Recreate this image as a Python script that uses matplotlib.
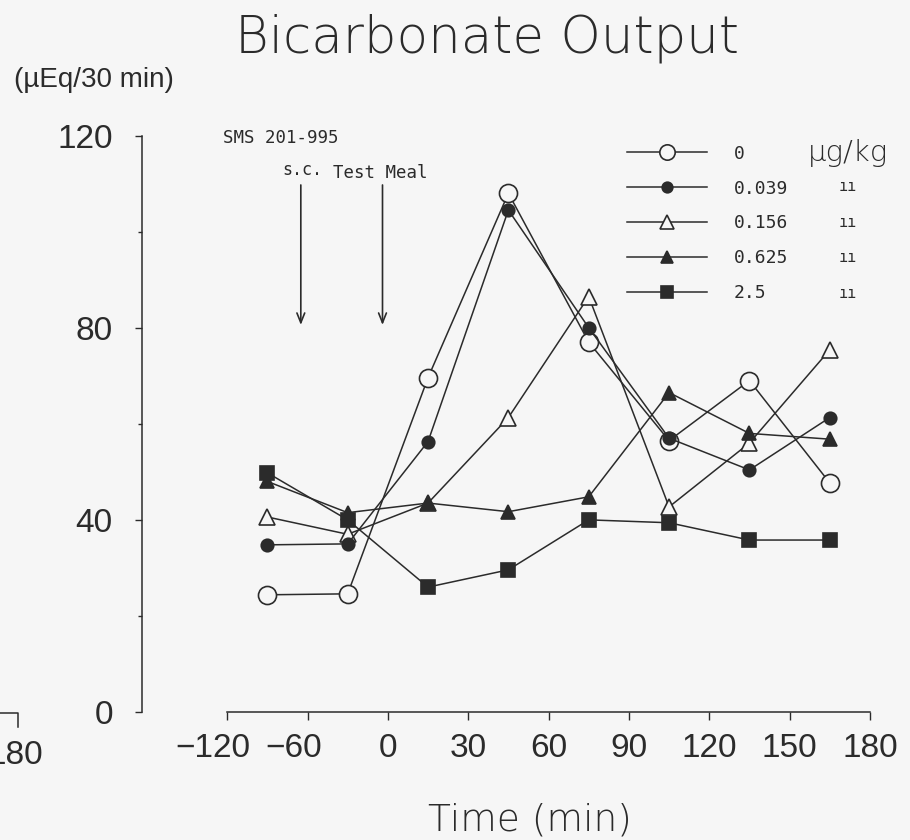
import numpy as np
import matplotlib.pyplot as plt
from matplotlib.lines import Line2D
import matplotlib.transforms as mtransforms

# midpoints of the 30-min collection periods (min)
time_min = [-90, -30, 15, 45, 75, 105, 135, 165]

# bicarbonate output (uEq/30 min) per SMS 201-995 dose
dose_0 = [24.4, 24.6, 69.6, 108.0, 77.0, 56.5, 69.0, 47.7]
dose_0039 = [34.8, 35.0, 56.3, 104.5, 80.0, 57.0, 50.4, 61.3]
dose_0156 = [40.6, 37.0, 43.5, 61.3, 86.5, 42.7, 56.0, 75.4]
dose_0625 = [48.0, 41.5, 43.5, 41.7, 44.8, 66.5, 58.0, 56.8]
dose_25 = [49.8, 40.0, 26.0, 29.6, 40.0, 39.4, 35.8, 35.8]

dose_labels = ["0", "0.039", "0.156", "0.625", "2.5"]
x_ticks = [-120, -60, 0, 30, 60, 90, 120, 150, 180]
y_ticks = [0, 40, 80, 120]
y_minor = [20, 60, 100]
arrow_times = [-65, -4]   # SMS s.c. injection, test meal

INK = "#2b2b2b"
BG = "#f6f6f6"
NARROW = ["Liberation Sans", "DejaVu Sans"]
MONO = ["DejaVu Sans Mono"]


def fwd(t):
    # pre-meal hour is squeezed: 60 min per tick before 0, 30 min after
    t = np.asarray(t, dtype=float)
    return np.where(t < 0, (t + 120) / 60, 2 + t / 30)


def inv(p):
    p = np.asarray(p, dtype=float)
    return np.where(p < 2, p * 60 - 120, (p - 2) * 30)


fig = plt.figure(figsize=(9.1, 8.4), dpi=100)
fig.patch.set_facecolor(BG)
ax = fig.add_axes([142 / 910, 128 / 840, 744 / 910, 586 / 840])
ax.set_facecolor(BG)
ax.set_xscale("function", functions=(fwd, inv))

# (values, marker, filled, size)
series = [
    (dose_0156, "^", False, 12),
    (dose_0, "o", False, 13),
    (dose_0039, "o", True, 9),
    (dose_0625, "^", True, 10),
    (dose_25, "s", True, 10),
]
handles = {}
for vals, mk, filled, ms in series:
    face = INK if filled else BG
    ln, = ax.plot(time_min, vals, color=INK, lw=1.1, marker=mk, ms=ms,
                  mfc=face, mec=INK, mew=1.2, clip_on=False)
    handles[id(vals)] = ln

ax.set_xlim(-183.6, 186)
ax.set_ylim(0, 122)

for side in ["top", "right"]:
    ax.spines[side].set_visible(False)
ax.spines["left"].set_bounds(0, 120)
ax.spines["bottom"].set_bounds(-120, 180)
for side in ["left", "bottom"]:
    ax.spines[side].set_linewidth(1.1)
    ax.spines[side].set_color(INK)

ax.set_xticks(x_ticks)
ax.set_xticklabels([str(v).replace("-", "\u2212") for v in x_ticks])
ax.set_yticks(y_ticks)
ax.set_yticks(y_minor, minor=True)
ax.tick_params(axis="x", direction="out", length=6, width=1.0, color=INK, pad=9)
ax.tick_params(axis="y", direction="out", length=5, width=1.0, color=INK, pad=16)
ax.tick_params(axis="y", which="minor", length=3, width=1.0, color=INK)
for lbl in ax.get_xticklabels() + ax.get_yticklabels():
    lbl.set_fontfamily(NARROW)
    lbl.set_fontsize(24)
    lbl.set_color(INK)
shift = mtransforms.ScaledTranslation(-14 / 100, 0, fig.dpi_scale_trans)
for lbl in ax.get_xticklabels():
    if lbl.get_text().startswith("\u2212"):
        lbl.set_transform(lbl.get_transform() + shift)

ax.set_xlabel("Time (min)", fontsize=27, family=["DejaVu Sans"], weight="light",
              color=INK, va="center")
ax.xaxis.set_label_coords((530 - 142) / 744, -0.184)

# dosing arrows
for t in arrow_times:
    ax.annotate("", xy=(t, 80), xytext=(t, 110.3),
                arrowprops=dict(arrowstyle="->,head_length=0.7,head_width=0.28",
                                lw=1.2, color=INK))
ax.text(-123, 119.6, "SMS 201-995", family=MONO, fontsize=12.5, color=INK,
        ha="left", va="center")
ax.text(-64, 112.8, "s.c.", family=MONO, fontsize=12, color=INK, ha="center", va="center")
ax.text(-41, 112.2, "Test Meal", family=MONO, fontsize=12.5, color=INK, ha="left", va="center")

# legend
order = [dose_0, dose_0039, dose_0156, dose_0625, dose_25]
leg_handles = []
for vals in order:
    ln = handles[id(vals)]
    leg_handles.append(Line2D([], [], color=INK, lw=1.1, marker=ln.get_marker(),
                              ms=ln.get_markersize() * 0.85, mfc=ln.get_markerfacecolor(),
                              mec=INK, mew=1.2))
ax.legend(leg_handles, dose_labels, loc="upper left", bbox_to_anchor=(0.652, 0.968),
          frameon=False, handlelength=4.4, handletextpad=1.5, labelspacing=0.93,
          borderpad=0, borderaxespad=0, prop={"family": MONO, "size": 13},
          labelcolor=INK)
ax.text(0.895, 0.954, "\u00b5g/kg", transform=ax.transAxes, fontsize=21,
        family=["DejaVu Sans"], weight="light", color=INK, ha="left", va="center")
for yy in [0.896, 0.836, 0.776, 0.715]:
    ax.text(0.948, yy, "\u0131\u0131", transform=ax.transAxes, fontsize=11,
            family=MONO, color=INK, ha="center", va="center")

fig.text(0.535, 1 - 38 / 840, "Bicarbonate Output", ha="center", va="center",
         fontsize=37, family=["DejaVu Sans"], weight="light", color=INK)
fig.text(14 / 910, 1 - 80 / 840, "(\u00b5Eq/30 min)", ha="left", va="center",
         fontsize=20, family=NARROW, color=INK)

# edge of the neighbouring panel that was cropped off
fig.text(-13 / 910, 1 - 755 / 840, "180", ha="left", va="center", fontsize=24,
         family=NARROW, color=INK)
fig.add_artist(Line2D([0, 18 / 910, 18 / 910], [1 - 713 / 840, 1 - 713 / 840, 1 - 727 / 840],
                      transform=fig.transFigure, color=INK, lw=1.1))

fig.savefig("out.png", dpi=100, facecolor=BG)
